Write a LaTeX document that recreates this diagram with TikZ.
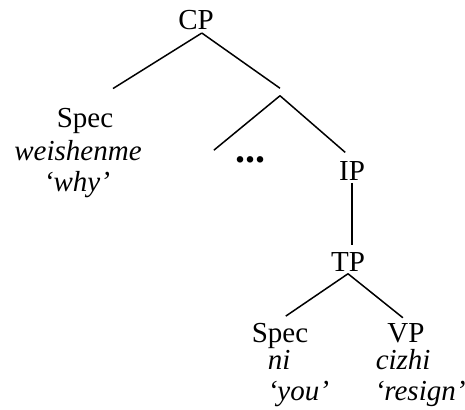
\documentclass[tikz,border=0pt]{standalone}
\usepackage{fontspec}
\setmainfont{Liberation Serif}
\begin{document}
\begin{tikzpicture}[x=1pt,y=-1pt,line width=1.5pt,
  every node/.style={font=\fontsize{29}{33}\selectfont,inner sep=2pt}]
  \useasboundingbox (0,0) rectangle (465,409);
  \node[anchor=base]      (CP)        at (196,30)  {CP};
  \node[anchor=base]      (specA)     at (85,128)  {Spec};
  \node[anchor=base]      (weishenme) at (78,160)  {\itshape weishenme};
  \node[anchor=base]      (why)       at (77,191)  {\itshape ‘why’};
  \node[inner sep=0,minimum height=6pt] (bar) at (280,92) {};
  \node[inner xsep=25pt,font=\fontsize{40}{44}\selectfont] (dots) at (250,160) {\textbf{...}};
  \node[anchor=base]      (IP)        at (352,180) {IP};
  \node[anchor=base]      (TP)        at (348,271) {TP};
  \node[anchor=base]      (specB)     at (280,342) {Spec};
  \node[anchor=base]      (VP)        at (406,342) {VP};
  \node[anchor=base west] (ni)        at (265,369) {\itshape ni};
  \node[anchor=base west] (you)       at (265,400) {\itshape ‘you’};
  \node[anchor=base west] (cizhi)     at (373,369) {\itshape cizhi};
  \node[anchor=base west] (resign)    at (372,400) {\itshape ‘resign’};
  \draw[shorten >=33pt] (CP.-65) -- (specA.north);
  \draw (CP.-65) -- (bar.north);
  \draw[shorten >=6pt] (bar.south) -- (dots.north west);
  \draw[shorten >=9pt] (bar.south) -- (IP.north);
  \draw[shorten >=4pt] (IP.south) -- (IP.south |- TP.north);
  \draw[shorten >=7pt] (TP.south) -- (specB.north);
  \draw[shorten >=4pt] (TP.south) -- (VP.north);
\end{tikzpicture}
\end{document}
